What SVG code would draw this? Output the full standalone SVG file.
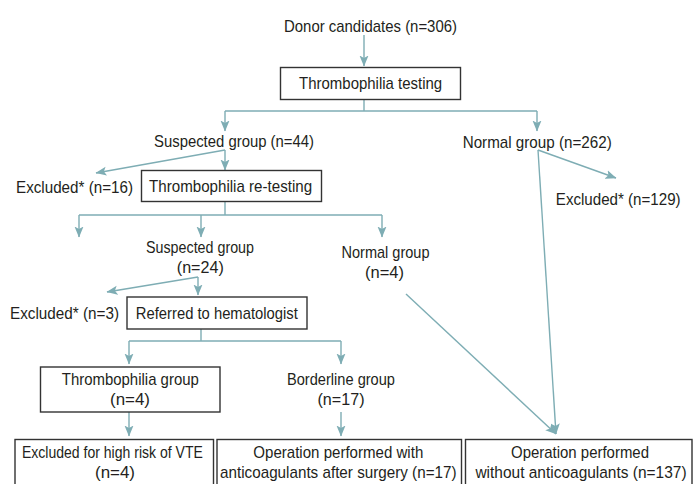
<svg xmlns="http://www.w3.org/2000/svg" width="693" height="484" viewBox="0 0 693 484">
<style>
text{font-family:"Liberation Sans",Arial,sans-serif;font-size:17px;fill:#231f20;text-anchor:middle}
.box{fill:#fff;stroke:#333;stroke-width:1.4}
.ln{fill:none;stroke:#7eadb4;stroke-width:1.4}
.ar{fill:none;stroke:#7eadb4;stroke-width:1.4;marker-end:url(#ah)}
</style>
<defs>
<marker id="ah" markerUnits="userSpaceOnUse" markerWidth="11" markerHeight="10" viewBox="0 0 11 10" refX="10.5" refY="5" orient="auto">
<path d="M0,0.5 L11,5 L0,9.5 L2.5,5 Z" fill="#7eadb4"/>
</marker>
</defs>
<rect width="693" height="484" fill="#fff"/>
<g id="connectors">
<line class="ar" x1="364" y1="35" x2="364" y2="66"/>
<line class="ln" x1="364" y1="99.5" x2="364" y2="111"/>
<line class="ln" x1="225" y1="111" x2="537" y2="111"/>
<line class="ar" x1="225" y1="111" x2="225" y2="131"/>
<line class="ar" x1="537" y1="111" x2="537" y2="131"/>
<line class="ar" x1="225" y1="150" x2="225" y2="170"/>
<line class="ar" x1="225" y1="150" x2="96" y2="173"/>
<line class="ar" x1="538" y1="150" x2="616" y2="178"/>
<line class="ar" x1="538" y1="150" x2="556" y2="434"/>
<line class="ln" x1="225" y1="202" x2="225" y2="215"/>
<line class="ln" x1="79" y1="215" x2="382" y2="215"/>
<line class="ar" x1="79" y1="215" x2="79" y2="237"/>
<line class="ar" x1="201" y1="215" x2="201" y2="237"/>
<line class="ar" x1="382" y1="215" x2="382" y2="237"/>
<line class="ar" x1="198" y1="277" x2="198" y2="295"/>
<line class="ar" x1="198" y1="277" x2="107" y2="292"/>
<line class="ln" x1="201" y1="329" x2="201" y2="341"/>
<line class="ln" x1="129" y1="341" x2="341" y2="341"/>
<line class="ar" x1="129" y1="341" x2="129" y2="364"/>
<line class="ar" x1="341" y1="341" x2="341" y2="364"/>
<line class="ar" x1="129" y1="412" x2="129" y2="436"/>
<line class="ar" x1="341" y1="412" x2="341" y2="436"/>
<line class="ar" x1="406" y1="294" x2="556" y2="434"/>
</g>
<g id="donor"><text x="370.5" y="32" textLength="173" lengthAdjust="spacingAndGlyphs">Donor candidates (n=306)</text></g>
<g id="testing"><rect class="box" x="280.5" y="67.5" width="180" height="32"/><text x="370.6" y="88.5" textLength="143" lengthAdjust="spacingAndGlyphs">Thrombophilia testing</text></g>
<g id="suspected1"><text x="234" y="146.5" textLength="160" lengthAdjust="spacingAndGlyphs">Suspected group (n=44)</text></g>
<g id="normal1"><text x="537.2" y="148" textLength="149" lengthAdjust="spacingAndGlyphs">Normal group (n=262)</text></g>
<g id="excluded16"><text x="74.5" y="193" textLength="117" lengthAdjust="spacingAndGlyphs">Excluded* (n=16)</text></g>
<g id="retesting"><rect class="box" x="141.5" y="170.5" width="180" height="31"/><text x="230.6" y="192" textLength="163" lengthAdjust="spacingAndGlyphs">Thrombophilia re-testing</text></g>
<g id="excluded129"><text transform="translate(618.2,205) scale(0.89,1)" x="0" y="0">Excluded* (n=129)</text></g>
<g id="suspected2"><text x="200" y="252.5" textLength="108" lengthAdjust="spacingAndGlyphs">Suspected group</text><text x="200.3" y="273.3" textLength="47" lengthAdjust="spacingAndGlyphs">(n=24)</text></g>
<g id="normal2"><text x="385.5" y="258.3" textLength="88" lengthAdjust="spacingAndGlyphs">Normal group</text><text x="384.5" y="278.3" textLength="39" lengthAdjust="spacingAndGlyphs">(n=4)</text></g>
<g id="excluded3"><text x="64.5" y="319.3" textLength="109" lengthAdjust="spacingAndGlyphs">Excluded* (n=3)</text></g>
<g id="hematologist"><rect class="box" x="127" y="297" width="180" height="32"/><text x="216.8" y="318.5" textLength="162" lengthAdjust="spacingAndGlyphs">Referred to hematologist</text></g>
<g id="thrombophilia"><rect class="box" x="40.5" y="367" width="179.5" height="45"/><text x="130.3" y="385" textLength="137" lengthAdjust="spacingAndGlyphs">Thrombophilia group</text><text x="130" y="405" textLength="40" lengthAdjust="spacingAndGlyphs">(n=4)</text></g>
<g id="borderline"><text x="341" y="385" textLength="108" lengthAdjust="spacingAndGlyphs">Borderline group</text><text x="341" y="405" textLength="47" lengthAdjust="spacingAndGlyphs">(n=17)</text></g>
<g id="excludedVTE"><rect class="box" x="15" y="439.5" width="198.5" height="50"/><text x="112.4" y="457.5" textLength="181" lengthAdjust="spacingAndGlyphs">Excluded for high risk of VTE</text><text x="115" y="478" textLength="40" lengthAdjust="spacingAndGlyphs">(n=4)</text></g>
<g id="withAnticoag"><rect class="box" x="217" y="439.5" width="244.5" height="50"/><text x="338.3" y="457.5" textLength="170" lengthAdjust="spacingAndGlyphs">Operation performed with</text><text x="338.3" y="478" textLength="236.5" lengthAdjust="spacingAndGlyphs">anticoagulants after surgery (n=17)</text></g>
<g id="withoutAnticoag"><rect class="box" x="465.5" y="439.5" width="226.5" height="50"/><text x="580" y="458" textLength="138" lengthAdjust="spacingAndGlyphs">Operation performed</text><text transform="translate(581,478) scale(0.91,1)" x="0" y="0">without anticoagulants (n=137)</text></g>
</svg>
